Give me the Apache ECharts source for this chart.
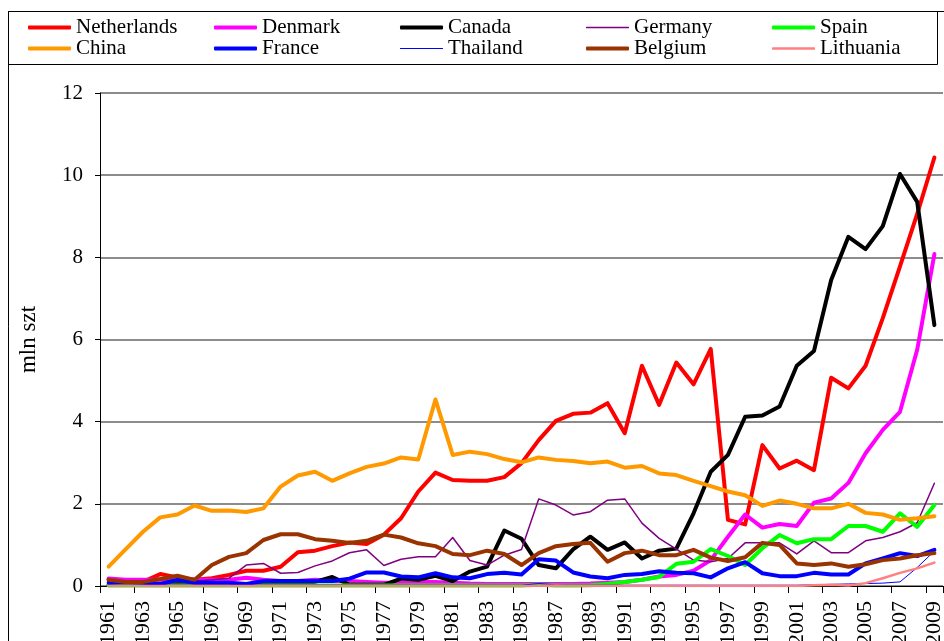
<!DOCTYPE html>
<html><head><meta charset="utf-8">
<script src="https://cdn.jsdelivr.net/npm/echarts@6/dist/echarts.min.js"></script>
<style>html,body{margin:0;padding:0;background:#fff;overflow:hidden;}#c{width:944px;height:641px;}</style>
</head><body><div id="c"></div>
<script>
const years = [];
for (let y = 1961; y <= 2009; y++) years.push(String(y));
const yTicks = [0, 2, 4, 6, 8, 10, 12];

const netherlands = [0.15,0.12,0.10,0.29,0.21,0.15,0.19,0.27,0.37,0.37,
  0.47,0.82,0.86,0.97,1.06,1.02,1.25,1.65,2.30,2.76,
  2.58,2.56,2.56,2.65,2.99,3.55,4.02,4.19,4.22,4.45,
  3.72,5.36,4.41,5.44,4.91,5.77,1.61,1.50,3.43,2.86,
  3.05,2.82,5.07,4.81,5.36,6.52,7.78,9.06,10.43];
const denmark = [0.18,0.15,0.15,0.15,0.18,0.15,0.15,0.15,0.20,0.15,
  0.12,0.12,0.15,0.12,0.12,0.10,0.08,0.08,0.10,0.10,
  0.08,0.06,0.05,0.05,0.05,0.05,0.05,0.05,0.06,0.08,
  0.10,0.15,0.23,0.27,0.37,0.63,1.20,1.74,1.42,1.51,
  1.46,2.03,2.13,2.51,3.23,3.80,4.24,5.75,8.08];
const canada = [0.03,0.03,0.03,0.03,0.05,0.03,0.03,0.03,0.03,0.03,
  0.03,0.03,0.10,0.22,0.03,0.03,0.03,0.18,0.15,0.25,
  0.12,0.35,0.47,1.35,1.15,0.51,0.43,0.89,1.20,0.88,
  1.06,0.67,0.86,0.91,1.77,2.78,3.19,4.12,4.15,4.37,
  5.36,5.72,7.45,8.50,8.20,8.76,10.03,9.35,6.35];
const germany = [0.05,0.05,0.05,0.08,0.10,0.12,0.15,0.19,0.51,0.55,
  0.31,0.33,0.49,0.61,0.81,0.88,0.50,0.65,0.71,0.71,
  1.18,0.62,0.51,0.75,0.89,2.12,1.97,1.73,1.81,2.09,
  2.12,1.53,1.16,0.90,0.63,0.59,0.67,1.05,1.05,1.05,
  0.78,1.10,0.81,0.81,1.10,1.18,1.32,1.54,2.50];
const spain = [0.01,0.01,0.01,0.01,0.01,0.01,0.01,0.01,0.01,0.01,
  0.01,0.01,0.01,0.01,0.01,0.01,0.01,0.01,0.01,0.01,
  0.01,0.01,0.01,0.01,0.01,0.03,0.01,0.01,0.02,0.05,
  0.10,0.15,0.22,0.54,0.59,0.90,0.73,0.51,0.92,1.24,
  1.04,1.14,1.14,1.46,1.46,1.32,1.77,1.44,1.97];
const china = [0.47,0.90,1.32,1.67,1.74,1.96,1.83,1.84,1.80,1.89,
  2.42,2.69,2.78,2.56,2.74,2.90,2.98,3.13,3.08,4.54,
  3.19,3.27,3.21,3.09,3.01,3.13,3.07,3.04,2.99,3.03,
  2.88,2.92,2.74,2.70,2.56,2.43,2.30,2.21,1.95,2.08,
  2.00,1.89,1.89,2.00,1.78,1.74,1.61,1.65,1.70];
const france = [0.08,0.10,0.08,0.05,0.15,0.08,0.08,0.08,0.05,0.12,
  0.12,0.12,0.12,0.12,0.18,0.33,0.33,0.23,0.21,0.31,
  0.21,0.19,0.29,0.32,0.28,0.65,0.62,0.33,0.23,0.19,
  0.27,0.29,0.36,0.32,0.31,0.21,0.43,0.58,0.31,0.24,
  0.24,0.32,0.28,0.28,0.55,0.67,0.80,0.73,0.88];
const thailand = [0.02,0.02,0.02,0.02,0.02,0.02,0.02,0.02,0.02,0.02,
  0.02,0.02,0.02,0.02,0.02,0.02,0.02,0.02,0.02,0.02,
  0.02,0.02,0.02,0.02,0.02,0.06,0.03,0.02,0.02,0.02,
  0.02,0.02,0.02,0.02,0.02,0.02,0.02,0.02,0.02,0.02,
  0.02,0.03,0.04,0.05,0.06,0.07,0.10,0.45,0.85];
const belgium = [0.15,0.10,0.10,0.17,0.25,0.15,0.51,0.71,0.80,1.12,
  1.26,1.26,1.14,1.10,1.05,1.10,1.25,1.18,1.04,0.97,
  0.78,0.75,0.86,0.78,0.51,0.80,0.97,1.02,1.05,0.59,
  0.80,0.86,0.75,0.75,0.88,0.69,0.61,0.70,1.05,1.00,
  0.55,0.51,0.55,0.47,0.53,0.63,0.67,0.75,0.80];
const lithuania = [0,0,0,0,0,0,0,0,0,0,
  0,0,0,0,0,0,0,0,0,0,
  0,0,0,0,0,0,0.01,0,0,0,
  0,0,0,0,0,0,0,0,0,0,
  0,0.02,0.03,0.01,0.07,0.19,0.32,0.43,0.57];

const names = ['Netherlands','Denmark','Canada','Germany','Spain','China','France','Thailand','Belgium','Lithuania'];
const values = [netherlands, denmark, canada, germany, spain, china, france, thailand, belgium, lithuania];
const colors = ['#FF0000','#FF00FF','#000000','#800080','#00FF00','#FF9900','#0000FF','#0000FF','#993300','#FF8080'];
const widths = [4,4,4,1.5,4,4,4,1,4,2.5];

const FONT = 'Liberation Serif';
const colX = [28, 214, 400, 586, 772];
const rowTop = [17, 38];

const legends = names.map((n, i) => ({
  data: [n],
  left: colX[i % 5],
  top: rowTop[Math.floor(i / 5)],
  orient: 'horizontal',
  padding: 0,
  itemGap: 0,
  itemWidth: 43,
  itemHeight: Math.max(widths[i], 1.2),
  icon: 'roundRect',
  selectedMode: false,
  textStyle: { fontFamily: FONT, fontSize: 21, color: '#000', padding: [0,0,0,0] }
}));

const series = names.map((n, i) => ({
  name: n,
  type: 'line',
  data: values[i],
  color: colors[i],
  symbol: 'none',
  showSymbol: false,
  lineStyle: { width: widths[i], color: colors[i], join: 'round', cap: 'round' },
  itemStyle: { color: colors[i] },
  emphasis: { disabled: true },
  z: 2 + i * 0.01
}));

const chart = echarts.init(document.getElementById('c'), null, { renderer: 'canvas' });
chart.setOption({
  animation: false,
  backgroundColor: '#fff',
  legend: legends,
  grid: { left: 100, width: 843, top: 93, height: 493, containLabel: false, outerBoundsMode: 'none' },
  xAxis: {
    type: 'category',
    data: years,
    boundaryGap: true,
    axisLine: { lineStyle: { color: '#000', width: 1 } },
    axisTick: { show: true, interval: 1, length: 7, lineStyle: { color: '#000' } },
    axisLabel: { interval: 1, rotate: 90, margin: 15, fontFamily: FONT, fontSize: 22, color: '#000' },
    splitLine: { show: false }
  },
  yAxis: {
    type: 'value',
    min: yTicks[0],
    max: yTicks[yTicks.length - 1],
    interval: 2,
    name: 'mln szt',
    nameLocation: 'middle',
    nameGap: 60,
    nameTextStyle: { fontFamily: FONT, fontSize: 23, color: '#000' },
    axisLine: { show: true, lineStyle: { color: '#000', width: 1 } },
    axisTick: { show: true, length: 5, lineStyle: { color: '#000' } },
    axisLabel: { margin: 17, fontFamily: FONT, fontSize: 21, color: '#000' },
    splitLine: { show: true, lineStyle: { color: '#666', width: 1.5 } }
  },
  graphic: [
    { type: 'rect', silent: true, z: 100, shape: { x: 8.5, y: 11.5, width: 1000, height: 1000 }, style: { fill: 'none', stroke: '#000', lineWidth: 1 } },
    { type: 'rect', silent: true, z: 100, shape: { x: 8.5, y: 11.5, width: 929, height: 53 }, style: { fill: 'none', stroke: '#000', lineWidth: 1 } }
  ],
  series: series
});
</script></body></html>
